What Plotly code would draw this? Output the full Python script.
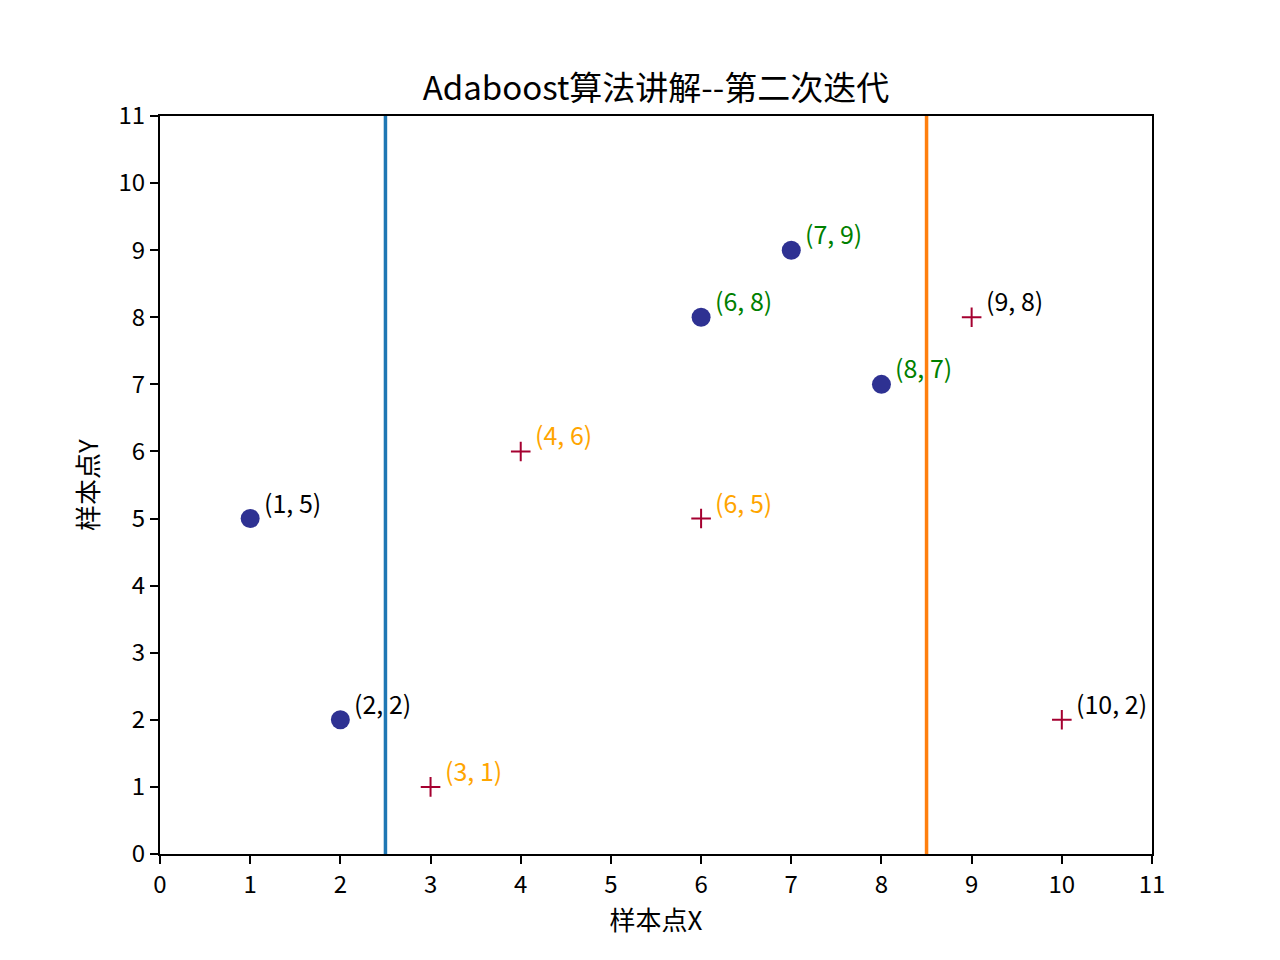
import plotly.graph_objects as go

pos_x = [1, 2, 6, 7, 8]
pos_y = [5, 2, 8, 9, 7]
pos_label_colors = ["black", "black", "green", "green", "green"]

neg_x = [3, 4, 6, 9, 10]
neg_y = [1, 6, 5, 8, 2]
neg_label_colors = ["orange", "orange", "orange", "black", "black"]

split_x = [2.5, 8.5]
split_colors = ["#1f77b4", "#ff7f0e"]

ticks = list(range(0, 12))

FONT = "Noto Sans CJK SC, SimHei, DejaVu Sans"

fig = go.Figure()

for sx, c in zip(split_x, split_colors):
    fig.add_trace(go.Scatter(x=[sx, sx], y=[0, 11], mode="lines",
                             line=dict(color=c, width=3.5), showlegend=False,
                             hoverinfo="skip"))

fig.add_trace(go.Scatter(x=pos_x, y=pos_y, mode="markers",
                         marker=dict(symbol="circle", size=19, color="#2e3192"),
                         showlegend=False))
fig.add_trace(go.Scatter(x=neg_x, y=neg_y, mode="markers",
                         marker=dict(symbol="cross-thin", size=14,
                                     line=dict(color="#a50030", width=2)),
                         showlegend=False))

for xs, ys, cs in [(pos_x, pos_y, pos_label_colors), (neg_x, neg_y, neg_label_colors)]:
    for x, y, c in zip(xs, ys, cs):
        fig.add_annotation(x=x, y=y, text=f"({x}, {y})", showarrow=False,
                           xanchor="left", yanchor="middle", xshift=12, yshift=17,
                           font=dict(family=FONT, size=25, color=c))

axis_common = dict(range=[0, 11], tickmode="array", tickvals=ticks,
                   ticks="outside", ticklen=8, tickwidth=2, tickcolor="black",
                   showline=True, linecolor="black", linewidth=2, mirror=True,
                   showgrid=False, zeroline=False,
                   tickfont=dict(family=FONT, size=24, color="black"))

fig.update_layout(
    width=1280, height=960,
    margin=dict(l=152, r=136, t=108, b=114),
    paper_bgcolor="white", plot_bgcolor="white",
    title=dict(text="Adaboost算法讲解--第二次迭代", x=(152 + 1144) / 2 / 1280, xanchor="center",
               y=1 - 80 / 960, yanchor="middle",
               font=dict(family=FONT, size=33, color="black")),
    xaxis=dict(**axis_common, title=dict(text="样本点X", standoff=6,
                                         font=dict(family=FONT, size=26, color="black"))),
    yaxis=dict(**axis_common, title=dict(text="样本点Y", standoff=12,
                                         font=dict(family=FONT, size=26, color="black"))),
)

fig.write_html("out.html")
